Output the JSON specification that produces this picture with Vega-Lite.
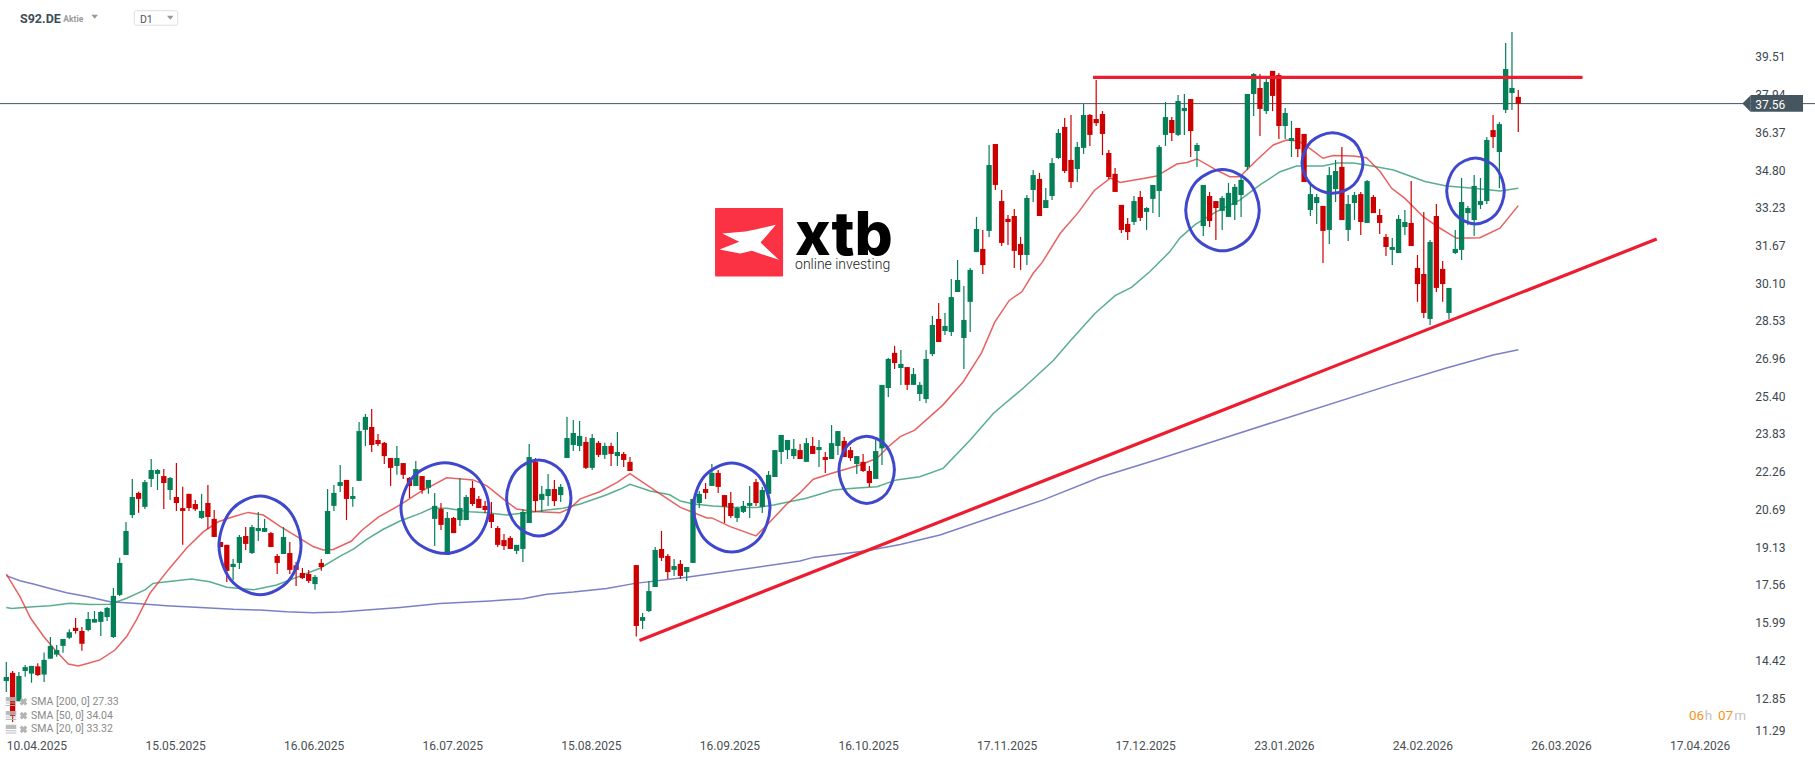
{
  "$schema": "https://vega.github.io/schema/vega-lite/v6.json",
  "width": 1815,
  "height": 761,
  "autosize": {"type": "none"},
  "padding": 0,
  "background": "#ffffff",
  "config": {"view": {"stroke": null}, "text": {"font": "Roboto"}},
  "datasets": {
    "candles": [
      {"i":0,"open":13.56,"high":14.35,"low":13.11,"close":13.73},
      {"i":1,"open":13.90,"high":13.98,"low":11.86,"close":12.11},
      {"i":2,"open":12.72,"high":13.94,"low":12.72,"close":13.77},
      {"i":3,"open":13.98,"high":14.23,"low":13.74,"close":14.14},
      {"i":4,"open":13.87,"high":14.19,"low":13.49,"close":14.19},
      {"i":5,"open":14.17,"high":14.30,"low":13.77,"close":13.81},
      {"i":6,"open":13.83,"high":14.75,"low":13.52,"close":14.44},
      {"i":7,"open":14.49,"high":15.39,"low":14.49,"close":15.02},
      {"i":8,"open":14.66,"high":15.06,"low":14.57,"close":14.85},
      {"i":9,"open":15.02,"high":15.31,"low":14.74,"close":15.31},
      {"i":10,"open":15.36,"high":15.71,"low":15.31,"close":15.59},
      {"i":11,"open":15.77,"high":16.18,"low":15.53,"close":15.64},
      {"i":12,"open":15.64,"high":15.81,"low":14.82,"close":15.11},
      {"i":13,"open":15.68,"high":16.43,"low":15.63,"close":16.14},
      {"i":14,"open":15.99,"high":16.47,"low":15.99,"close":16.14},
      {"i":15,"open":16.02,"high":16.47,"low":15.43,"close":16.43},
      {"i":16,"open":16.22,"high":16.64,"low":16.06,"close":16.60},
      {"i":17,"open":15.39,"high":17.43,"low":15.35,"close":17.10},
      {"i":18,"open":17.14,"high":18.68,"low":17.10,"close":18.47},
      {"i":19,"open":18.80,"high":20.17,"low":18.80,"close":19.80},
      {"i":20,"open":20.46,"high":21.96,"low":20.34,"close":21.21},
      {"i":21,"open":21.38,"high":21.43,"low":20.55,"close":21.13},
      {"i":22,"open":20.80,"high":21.92,"low":20.71,"close":21.83},
      {"i":23,"open":21.96,"high":22.79,"low":21.63,"close":22.33},
      {"i":24,"open":22.17,"high":22.37,"low":21.50,"close":22.33},
      {"i":25,"open":22.08,"high":22.37,"low":20.71,"close":21.79},
      {"i":26,"open":21.50,"high":22.04,"low":21.09,"close":22.00},
      {"i":27,"open":21.21,"high":22.62,"low":20.63,"close":20.96},
      {"i":28,"open":20.75,"high":21.64,"low":19.22,"close":20.63},
      {"i":29,"open":21.34,"high":21.34,"low":20.63,"close":20.75},
      {"i":30,"open":20.92,"high":21.09,"low":20.63,"close":20.70},
      {"i":31,"open":20.34,"high":21.34,"low":20.30,"close":20.63},
      {"i":32,"open":20.96,"high":21.71,"low":19.87,"close":20.38},
      {"i":33,"open":20.30,"high":20.67,"low":19.55,"close":19.55},
      {"i":34,"open":19.34,"high":19.34,"low":19.13,"close":19.13},
      {"i":35,"open":19.22,"high":19.22,"low":17.68,"close":18.14},
      {"i":36,"open":18.30,"high":18.63,"low":17.76,"close":18.43},
      {"i":37,"open":18.47,"high":19.63,"low":18.22,"close":19.55},
      {"i":38,"open":19.59,"high":19.96,"low":19.01,"close":19.26},
      {"i":39,"open":18.88,"high":20.05,"low":18.84,"close":19.96},
      {"i":40,"open":19.80,"high":20.59,"low":19.38,"close":19.92},
      {"i":41,"open":19.76,"high":20.30,"low":19.76,"close":19.92},
      {"i":42,"open":19.71,"high":19.76,"low":19.13,"close":19.13},
      {"i":43,"open":18.76,"high":18.84,"low":18.01,"close":18.47},
      {"i":44,"open":18.84,"high":19.96,"low":18.84,"close":19.55},
      {"i":45,"open":18.88,"high":19.34,"low":18.01,"close":18.18},
      {"i":46,"open":18.37,"high":18.51,"low":17.51,"close":18.18},
      {"i":47,"open":18.05,"high":18.26,"low":17.80,"close":17.84},
      {"i":48,"open":18.01,"high":18.18,"low":17.64,"close":17.72},
      {"i":49,"open":17.59,"high":17.97,"low":17.35,"close":17.89},
      {"i":50,"open":18.47,"high":18.63,"low":18.14,"close":18.30},
      {"i":51,"open":18.84,"high":21.54,"low":18.84,"close":20.63},
      {"i":52,"open":20.84,"high":21.71,"low":20.63,"close":21.38},
      {"i":53,"open":21.67,"high":22.54,"low":21.42,"close":21.83},
      {"i":54,"open":21.92,"high":21.92,"low":20.25,"close":21.13},
      {"i":55,"open":21.13,"high":21.63,"low":20.80,"close":21.25},
      {"i":56,"open":21.88,"high":24.33,"low":21.88,"close":23.95},
      {"i":57,"open":24.00,"high":24.66,"low":23.33,"close":24.54},
      {"i":58,"open":24.12,"high":24.87,"low":23.08,"close":23.37},
      {"i":59,"open":23.58,"high":23.83,"low":23.33,"close":23.41},
      {"i":60,"open":23.46,"high":23.50,"low":22.58,"close":22.91},
      {"i":61,"open":22.83,"high":22.83,"low":21.67,"close":22.42},
      {"i":62,"open":22.50,"high":23.33,"low":22.13,"close":22.83},
      {"i":63,"open":22.62,"high":22.62,"low":21.96,"close":22.13},
      {"i":64,"open":22.00,"high":22.04,"low":21.17,"close":21.67},
      {"i":65,"open":21.67,"high":22.71,"low":21.67,"close":22.37},
      {"i":66,"open":22.08,"high":22.08,"low":21.34,"close":21.50},
      {"i":67,"open":21.59,"high":21.92,"low":21.34,"close":21.92},
      {"i":68,"open":20.30,"high":21.38,"low":19.17,"close":20.84},
      {"i":69,"open":20.71,"high":20.96,"low":19.84,"close":20.05},
      {"i":70,"open":18.80,"high":20.59,"low":18.80,"close":20.34},
      {"i":71,"open":20.34,"high":20.38,"low":19.71,"close":19.71},
      {"i":72,"open":20.25,"high":22.00,"low":20.00,"close":20.75},
      {"i":73,"open":20.25,"high":21.29,"low":20.25,"close":21.21},
      {"i":74,"open":21.59,"high":21.88,"low":20.84,"close":20.92},
      {"i":75,"open":21.13,"high":21.25,"low":20.75,"close":20.75},
      {"i":76,"open":20.84,"high":21.04,"low":20.55,"close":20.67},
      {"i":77,"open":20.50,"high":21.00,"low":19.92,"close":20.17},
      {"i":78,"open":19.92,"high":20.00,"low":19.13,"close":19.22},
      {"i":79,"open":19.42,"high":19.67,"low":19.01,"close":19.17},
      {"i":80,"open":19.51,"high":19.59,"low":19.05,"close":19.05},
      {"i":81,"open":18.97,"high":19.22,"low":18.84,"close":19.22},
      {"i":82,"open":19.05,"high":20.71,"low":18.51,"close":20.59},
      {"i":83,"open":20.13,"high":23.41,"low":20.13,"close":22.87},
      {"i":84,"open":22.67,"high":22.83,"low":20.59,"close":21.04},
      {"i":85,"open":21.09,"high":21.67,"low":20.59,"close":21.34},
      {"i":86,"open":21.25,"high":22.17,"low":20.84,"close":21.54},
      {"i":87,"open":21.54,"high":21.92,"low":20.84,"close":21.04},
      {"i":88,"open":21.29,"high":21.75,"low":21.00,"close":21.63},
      {"i":89,"open":22.83,"high":24.54,"low":22.83,"close":23.66},
      {"i":90,"open":23.37,"high":24.41,"low":23.12,"close":23.87},
      {"i":91,"open":23.33,"high":24.37,"low":23.12,"close":23.75},
      {"i":92,"open":23.50,"high":23.70,"low":22.37,"close":22.42},
      {"i":93,"open":22.42,"high":23.83,"low":22.33,"close":23.66},
      {"i":94,"open":23.46,"high":23.54,"low":22.87,"close":22.96},
      {"i":95,"open":22.96,"high":23.46,"low":22.79,"close":23.33},
      {"i":96,"open":23.33,"high":23.46,"low":22.50,"close":23.00},
      {"i":97,"open":22.91,"high":23.91,"low":22.50,"close":23.08},
      {"i":98,"open":23.00,"high":23.08,"low":22.46,"close":22.75},
      {"i":99,"open":22.67,"high":22.87,"low":22.29,"close":22.29},
      {"i":100,"open":18.38,"high":18.38,"low":15.41,"close":15.85},
      {"i":101,"open":16.06,"high":16.39,"low":15.72,"close":16.22},
      {"i":102,"open":16.47,"high":17.72,"low":16.43,"close":17.30},
      {"i":103,"open":17.47,"high":19.13,"low":17.47,"close":19.01},
      {"i":104,"open":19.05,"high":19.80,"low":18.55,"close":18.68},
      {"i":105,"open":18.76,"high":18.84,"low":17.80,"close":18.09},
      {"i":106,"open":18.18,"high":18.63,"low":17.93,"close":18.34},
      {"i":107,"open":18.43,"high":18.59,"low":17.80,"close":17.93},
      {"i":108,"open":18.09,"high":18.30,"low":17.72,"close":18.30},
      {"i":109,"open":18.47,"high":21.13,"low":18.47,"close":21.13},
      {"i":110,"open":20.96,"high":21.46,"low":20.75,"close":21.34},
      {"i":111,"open":21.54,"high":21.79,"low":21.13,"close":21.38},
      {"i":112,"open":21.67,"high":22.58,"low":21.67,"close":22.21},
      {"i":113,"open":22.21,"high":22.33,"low":21.38,"close":21.63},
      {"i":114,"open":21.29,"high":21.29,"low":20.13,"close":20.81},
      {"i":115,"open":20.96,"high":21.42,"low":20.34,"close":20.42},
      {"i":116,"open":20.34,"high":20.80,"low":20.17,"close":20.75},
      {"i":117,"open":20.59,"high":21.04,"low":20.55,"close":20.84},
      {"i":118,"open":20.84,"high":21.67,"low":20.34,"close":20.96},
      {"i":119,"open":21.83,"high":21.96,"low":20.84,"close":20.96},
      {"i":120,"open":20.80,"high":21.63,"low":20.55,"close":21.50},
      {"i":121,"open":21.34,"high":22.29,"low":21.34,"close":22.13},
      {"i":122,"open":22.04,"high":23.16,"low":22.04,"close":23.16},
      {"i":123,"open":23.08,"high":23.79,"low":22.58,"close":23.79},
      {"i":124,"open":23.16,"high":23.58,"low":22.79,"close":23.58},
      {"i":125,"open":22.91,"high":23.62,"low":22.79,"close":23.21},
      {"i":126,"open":23.16,"high":23.41,"low":22.79,"close":22.79},
      {"i":127,"open":22.67,"high":23.66,"low":22.67,"close":23.45},
      {"i":128,"open":23.33,"high":23.70,"low":23.00,"close":23.00},
      {"i":129,"open":23.16,"high":23.58,"low":22.46,"close":23.29},
      {"i":130,"open":22.87,"high":23.08,"low":22.21,"close":22.75},
      {"i":131,"open":22.79,"high":24.20,"low":22.79,"close":23.45},
      {"i":132,"open":23.33,"high":23.95,"low":22.96,"close":23.95},
      {"i":133,"open":23.54,"high":23.70,"low":22.87,"close":22.87},
      {"i":134,"open":23.16,"high":23.29,"low":22.71,"close":22.83},
      {"i":135,"open":22.58,"high":22.91,"low":22.17,"close":22.91},
      {"i":136,"open":22.67,"high":23.00,"low":22.25,"close":22.29},
      {"i":137,"open":22.29,"high":22.50,"low":21.63,"close":21.79},
      {"i":138,"open":21.96,"high":23.58,"low":21.96,"close":23.12},
      {"i":139,"open":23.23,"high":25.87,"low":22.54,"close":25.87},
      {"i":140,"open":25.74,"high":26.99,"low":25.37,"close":26.95},
      {"i":141,"open":27.20,"high":27.49,"low":26.53,"close":26.78},
      {"i":142,"open":26.57,"high":27.32,"low":25.87,"close":26.74},
      {"i":143,"open":26.61,"high":26.61,"low":25.66,"close":25.87},
      {"i":144,"open":25.87,"high":26.57,"low":25.87,"close":26.32},
      {"i":145,"open":25.49,"high":25.99,"low":25.20,"close":25.87},
      {"i":146,"open":25.28,"high":27.32,"low":25.12,"close":26.95},
      {"i":147,"open":27.15,"high":28.73,"low":27.07,"close":28.36},
      {"i":148,"open":28.61,"high":29.27,"low":27.65,"close":27.65},
      {"i":149,"open":28.11,"high":28.86,"low":27.94,"close":28.32},
      {"i":150,"open":28.07,"high":30.27,"low":27.90,"close":29.52},
      {"i":151,"open":29.73,"high":31.06,"low":29.73,"close":30.23},
      {"i":152,"open":27.82,"high":29.98,"low":26.53,"close":28.57},
      {"i":153,"open":29.32,"high":30.73,"low":28.07,"close":30.65},
      {"i":154,"open":31.39,"high":32.85,"low":31.39,"close":32.35},
      {"i":155,"open":31.52,"high":32.31,"low":30.48,"close":30.85},
      {"i":156,"open":32.27,"high":35.84,"low":32.02,"close":35.01},
      {"i":157,"open":35.88,"high":35.88,"low":33.97,"close":34.18},
      {"i":158,"open":33.51,"high":33.97,"low":31.64,"close":31.77},
      {"i":159,"open":32.77,"high":32.93,"low":31.68,"close":32.64},
      {"i":160,"open":32.89,"high":33.18,"low":30.73,"close":31.44},
      {"i":161,"open":31.73,"high":32.02,"low":30.65,"close":31.27},
      {"i":162,"open":31.27,"high":33.76,"low":30.85,"close":33.64},
      {"i":163,"open":33.97,"high":34.80,"low":33.47,"close":34.59},
      {"i":164,"open":34.43,"high":34.68,"low":32.89,"close":32.89},
      {"i":165,"open":33.22,"high":34.05,"low":33.22,"close":33.55},
      {"i":166,"open":33.72,"high":35.30,"low":33.55,"close":35.09},
      {"i":167,"open":35.30,"high":36.51,"low":35.26,"close":36.34},
      {"i":168,"open":36.59,"high":36.96,"low":34.68,"close":34.76},
      {"i":169,"open":35.22,"high":37.09,"low":34.05,"close":34.30},
      {"i":170,"open":34.84,"high":35.97,"low":34.30,"close":35.76},
      {"i":171,"open":35.72,"high":37.54,"low":35.47,"close":37.09},
      {"i":172,"open":37.09,"high":37.13,"low":35.80,"close":36.26},
      {"i":173,"open":36.92,"high":38.54,"low":36.63,"close":36.75},
      {"i":174,"open":37.13,"high":37.25,"low":35.42,"close":36.30},
      {"i":175,"open":35.51,"high":35.63,"low":34.43,"close":34.51},
      {"i":176,"open":34.64,"high":34.88,"low":33.89,"close":33.89},
      {"i":177,"open":33.35,"high":33.35,"low":32.18,"close":32.31},
      {"i":178,"open":32.56,"high":32.81,"low":31.89,"close":32.22},
      {"i":179,"open":32.64,"high":33.72,"low":32.52,"close":33.51},
      {"i":180,"open":33.68,"high":33.93,"low":32.68,"close":32.81},
      {"i":181,"open":33.06,"high":33.26,"low":32.31,"close":33.22},
      {"i":182,"open":33.60,"high":34.18,"low":33.01,"close":34.18},
      {"i":183,"open":33.93,"high":35.84,"low":32.85,"close":35.76},
      {"i":184,"open":36.26,"high":37.63,"low":35.80,"close":37.00},
      {"i":185,"open":36.88,"high":37.00,"low":36.01,"close":36.34},
      {"i":186,"open":36.26,"high":37.92,"low":36.21,"close":37.67},
      {"i":187,"open":37.25,"high":37.96,"low":36.26,"close":37.38},
      {"i":188,"open":37.75,"high":37.75,"low":35.34,"close":36.42},
      {"i":189,"open":35.59,"high":35.92,"low":34.93,"close":35.84},
      {"i":190,"open":32.47,"high":34.18,"low":32.06,"close":34.18},
      {"i":191,"open":33.72,"high":33.89,"low":32.43,"close":32.68},
      {"i":192,"open":33.51,"high":33.51,"low":31.89,"close":33.22},
      {"i":193,"open":33.10,"high":33.72,"low":32.31,"close":33.64},
      {"i":194,"open":32.85,"high":34.26,"low":32.85,"close":33.85},
      {"i":195,"open":33.35,"high":34.22,"low":32.72,"close":34.10},
      {"i":196,"open":33.76,"high":34.59,"low":32.85,"close":34.39},
      {"i":197,"open":34.93,"high":37.96,"low":34.80,"close":37.96},
      {"i":198,"open":37.96,"high":38.83,"low":37.05,"close":38.79},
      {"i":199,"open":38.21,"high":38.79,"low":36.21,"close":37.34},
      {"i":200,"open":37.25,"high":38.63,"low":37.13,"close":38.46},
      {"i":201,"open":38.92,"high":38.92,"low":37.25,"close":37.88},
      {"i":202,"open":38.75,"high":38.83,"low":36.09,"close":36.63},
      {"i":203,"open":36.63,"high":37.38,"low":36.09,"close":37.17},
      {"i":204,"open":36.01,"high":36.84,"low":35.34,"close":36.13},
      {"i":205,"open":36.55,"high":36.55,"low":35.34,"close":35.67},
      {"i":206,"open":36.30,"high":36.30,"low":34.30,"close":34.30},
      {"i":207,"open":33.14,"high":34.18,"low":32.89,"close":33.80},
      {"i":208,"open":33.43,"high":33.80,"low":32.56,"close":33.68},
      {"i":209,"open":33.31,"high":33.31,"low":30.94,"close":32.27},
      {"i":210,"open":32.31,"high":34.93,"low":31.73,"close":34.59},
      {"i":211,"open":34.01,"high":35.22,"low":33.47,"close":34.76},
      {"i":212,"open":34.93,"high":35.76,"low":32.72,"close":32.72},
      {"i":213,"open":32.31,"high":33.76,"low":31.85,"close":33.39},
      {"i":214,"open":33.43,"high":33.89,"low":32.72,"close":33.76},
      {"i":215,"open":33.80,"high":33.89,"low":32.10,"close":32.64},
      {"i":216,"open":32.60,"high":34.39,"low":32.60,"close":34.34},
      {"i":217,"open":33.68,"high":33.76,"low":33.01,"close":33.01},
      {"i":218,"open":32.93,"high":33.18,"low":32.14,"close":32.60},
      {"i":219,"open":32.02,"high":32.14,"low":31.23,"close":31.60},
      {"i":220,"open":31.48,"high":31.98,"low":30.85,"close":31.60},
      {"i":221,"open":31.35,"high":32.93,"low":31.35,"close":32.77},
      {"i":222,"open":32.43,"high":33.14,"low":32.10,"close":32.64},
      {"i":223,"open":32.60,"high":34.34,"low":31.64,"close":31.64},
      {"i":224,"open":30.73,"high":31.27,"low":29.32,"close":30.06},
      {"i":225,"open":30.48,"high":33.06,"low":28.65,"close":28.86},
      {"i":226,"open":28.61,"high":31.89,"low":28.36,"close":31.81},
      {"i":227,"open":32.89,"high":33.39,"low":29.73,"close":29.90},
      {"i":228,"open":30.69,"high":31.02,"low":29.32,"close":30.06},
      {"i":229,"open":28.86,"high":29.90,"low":28.61,"close":29.90},
      {"i":230,"open":31.35,"high":32.31,"low":31.31,"close":31.52},
      {"i":231,"open":31.48,"high":34.47,"low":31.06,"close":33.47},
      {"i":232,"open":33.01,"high":33.31,"low":32.52,"close":33.22},
      {"i":233,"open":32.72,"high":34.59,"low":32.06,"close":34.14},
      {"i":234,"open":33.35,"high":34.47,"low":33.18,"close":33.51},
      {"i":235,"open":33.51,"high":36.17,"low":33.39,"close":36.05},
      {"i":236,"open":36.46,"high":37.09,"low":35.72,"close":36.17},
      {"i":237,"open":35.55,"high":36.80,"low":34.05,"close":36.71},
      {"i":238,"open":37.30,"high":40.08,"low":37.17,"close":39.00},
      {"i":239,"open":38.00,"high":40.54,"low":37.30,"close":38.21},
      {"i":240,"open":37.84,"high":38.13,"low":36.38,"close":37.56}
    ],
    "sma": [
      {"s":"200","i":0,"p":17.94},{"s":"200","i":2.17,"p":17.73},{"s":"200","i":4.29,"p":17.59},{"s":"200","i":6.94,"p":17.41},{"s":"200","i":9.58,"p":17.23},{"s":"200","i":12.76,"p":17.07},{"s":"200","i":16.46,"p":16.86},{"s":"200","i":20.16,"p":16.79},{"s":"200","i":25.46,"p":16.69},{"s":"200","i":30.75,"p":16.62},{"s":"200","i":36.04,"p":16.54},{"s":"200","i":40.27,"p":16.51},{"s":"200","i":44.5,"p":16.44},{"s":"200","i":48.7,"p":16.40},{"s":"200","i":53,"p":16.43},{"s":"200","i":57.2,"p":16.51},{"s":"200","i":62.5,"p":16.62},{"s":"200","i":68.8,"p":16.78},{"s":"200","i":76.8,"p":16.89},{"s":"200","i":82,"p":16.98},{"s":"200","i":85.8,"p":17.17},{"s":"200","i":90,"p":17.26},{"s":"200","i":95.3,"p":17.41},{"s":"200","i":99.8,"p":17.62},{"s":"200","i":108,"p":17.87},{"s":"200","i":117.5,"p":18.23},{"s":"200","i":126,"p":18.55},{"s":"200","i":128.1,"p":18.70},{"s":"200","i":136.6,"p":18.98},{"s":"200","i":141.9,"p":19.24},{"s":"200","i":148.2,"p":19.63},{"s":"200","i":156.7,"p":20.39},{"s":"200","i":164.6,"p":21.09},{"s":"200","i":173.6,"p":22.03},{"s":"200","i":182.7,"p":22.77},{"s":"200","i":201,"p":24.31},{"s":"200","i":219.5,"p":25.85},{"s":"200","i":228.6,"p":26.57},{"s":"200","i":236,"p":27.11},{"s":"200","i":240,"p":27.33},
      {"s":"50","i":0,"p":16.62},{"s":"50","i":0.85,"p":16.58},{"s":"50","i":4.29,"p":16.65},{"s":"50","i":6.94,"p":16.69},{"s":"50","i":10.1,"p":16.79},{"s":"50","i":13.3,"p":16.74},{"s":"50","i":16.46,"p":16.75},{"s":"50","i":19.1,"p":17.00},{"s":"50","i":22,"p":17.35},{"s":"50","i":23.3,"p":17.62},{"s":"50","i":25.5,"p":17.69},{"s":"50","i":29.4,"p":17.80},{"s":"50","i":32.3,"p":17.69},{"s":"50","i":35,"p":17.46},{"s":"50","i":39.2,"p":17.35},{"s":"50","i":42.9,"p":17.55},{"s":"50","i":46.6,"p":17.92},{"s":"50","i":49.8,"p":18.25},{"s":"50","i":53,"p":18.75},{"s":"50","i":55.1,"p":19.04},{"s":"50","i":57.2,"p":19.45},{"s":"50","i":59.85,"p":19.87},{"s":"50","i":62.5,"p":20.21},{"s":"50","i":65.7,"p":20.53},{"s":"50","i":67.5,"p":20.74},{"s":"50","i":69.9,"p":20.74},{"s":"50","i":73.6,"p":20.60},{"s":"50","i":76.3,"p":20.56},{"s":"50","i":79.4,"p":20.46},{"s":"50","i":82.6,"p":20.56},{"s":"50","i":85.8,"p":20.67},{"s":"50","i":88.4,"p":20.74},{"s":"50","i":91.1,"p":20.92},{"s":"50","i":95,"p":21.27},{"s":"50","i":97.4,"p":21.53},{"s":"50","i":99,"p":21.74},{"s":"50","i":102.2,"p":21.46},{"s":"50","i":105.3,"p":21.30},{"s":"50","i":107,"p":21.04},{"s":"50","i":109.1,"p":20.92},{"s":"50","i":112.2,"p":20.84},{"s":"50","i":115.4,"p":20.78},{"s":"50","i":119.1,"p":20.77},{"s":"50","i":121.8,"p":20.88},{"s":"50","i":127,"p":21.16},{"s":"50","i":131.3,"p":21.50},{"s":"50","i":134.5,"p":21.57},{"s":"50","i":138.2,"p":21.64},{"s":"50","i":141.3,"p":21.92},{"s":"50","i":145,"p":22.05},{"s":"50","i":148.7,"p":22.40},{"s":"50","i":153,"p":23.58},{"s":"50","i":156.7,"p":24.69},{"s":"50","i":161.4,"p":25.73},{"s":"50","i":166.2,"p":26.88},{"s":"50","i":168.8,"p":27.67},{"s":"50","i":172.8,"p":28.84},{"s":"50","i":176,"p":29.58},{"s":"50","i":178.6,"p":29.92},{"s":"50","i":181.5,"p":30.57},{"s":"50","i":184.7,"p":31.41},{"s":"50","i":186.3,"p":31.98},{"s":"50","i":188.8,"p":32.55},{"s":"50","i":192.1,"p":33.07},{"s":"50","i":195.8,"p":33.55},{"s":"50","i":199,"p":34.18},{"s":"50","i":202.2,"p":34.73},{"s":"50","i":204.8,"p":34.97},{"s":"50","i":209,"p":34.97},{"s":"50","i":211.2,"p":35.09},{"s":"50","i":213.8,"p":35.09},{"s":"50","i":215.9,"p":35.01},{"s":"50","i":220.2,"p":34.80},{"s":"50","i":222.8,"p":34.55},{"s":"50","i":225.2,"p":34.32},{"s":"50","i":228.6,"p":34.14},{"s":"50","i":232.9,"p":34.04},{"s":"50","i":237.1,"p":33.93},{"s":"50","i":240,"p":34.04},
      {"s":"20","i":0,"p":18.00},{"s":"20","i":2.17,"p":17.07},{"s":"20","i":3.87,"p":16.17},{"s":"20","i":5.88,"p":15.43},{"s":"20","i":7.73,"p":14.85},{"s":"20","i":9.85,"p":14.27},{"s":"20","i":11.43,"p":14.19},{"s":"20","i":13.02,"p":14.30},{"s":"20","i":14.87,"p":14.44},{"s":"20","i":17.25,"p":14.85},{"s":"20","i":19.1,"p":15.41},{"s":"20","i":20.7,"p":16.12},{"s":"20","i":22.8,"p":17.21},{"s":"20","i":25.7,"p":18.18},{"s":"20","i":28.6,"p":19.08},{"s":"20","i":31.3,"p":19.77},{"s":"20","i":33.65,"p":20.18},{"s":"20","i":36,"p":20.39},{"s":"20","i":38.4,"p":20.57},{"s":"20","i":40.8,"p":20.46},{"s":"20","i":43.4,"p":20.00},{"s":"20","i":46.6,"p":19.49},{"s":"20","i":48.7,"p":19.15},{"s":"20","i":50.3,"p":19.01},{"s":"20","i":51.9,"p":19.03},{"s":"20","i":54.8,"p":19.38},{"s":"20","i":56.4,"p":19.82},{"s":"20","i":59.05,"p":20.37},{"s":"20","i":62.5,"p":20.88},{"s":"20","i":65.7,"p":21.42},{"s":"20","i":69.9,"p":22.01},{"s":"20","i":74.1,"p":21.92},{"s":"20","i":76.3,"p":21.67},{"s":"20","i":79.4,"p":21.02},{"s":"20","i":81,"p":20.71},{"s":"20","i":83.7,"p":20.61},{"s":"20","i":87.9,"p":20.56},{"s":"20","i":89.5,"p":20.74},{"s":"20","i":91.1,"p":21.13},{"s":"20","i":94.2,"p":21.43},{"s":"20","i":96.9,"p":21.81},{"s":"20","i":99,"p":22.18},{"s":"20","i":103,"p":21.47},{"s":"20","i":107,"p":20.78},{"s":"20","i":111.2,"p":20.34},{"s":"20","i":112,"p":20.34},{"s":"20","i":114.9,"p":19.98},{"s":"20","i":119,"p":19.59},{"s":"20","i":121.2,"p":20.17},{"s":"20","i":123.9,"p":20.92},{"s":"20","i":126,"p":21.39},{"s":"20","i":128.1,"p":21.95},{"s":"20","i":131.3,"p":22.22},{"s":"20","i":135.5,"p":22.54},{"s":"20","i":138.2,"p":22.82},{"s":"20","i":140,"p":23.30},{"s":"20","i":141.9,"p":23.72},{"s":"20","i":144.2,"p":23.99},{"s":"20","i":148.7,"p":25.04},{"s":"20","i":151.9,"p":26.00},{"s":"20","i":154.8,"p":27.20},{"s":"20","i":156.9,"p":28.48},{"s":"20","i":159.2,"p":29.38},{"s":"20","i":161.2,"p":29.74},{"s":"20","i":163,"p":30.51},{"s":"20","i":164.4,"p":30.95},{"s":"20","i":167.3,"p":32.17},{"s":"20","i":170.2,"p":33.05},{"s":"20","i":172.7,"p":33.95},{"s":"20","i":175.3,"p":34.47},{"s":"20","i":176.8,"p":34.28},{"s":"20","i":180.5,"p":34.45},{"s":"20","i":182.6,"p":34.55},{"s":"20","i":185.8,"p":35.05},{"s":"20","i":187.4,"p":35.11},{"s":"20","i":189,"p":35.26},{"s":"20","i":192.1,"p":34.80},{"s":"20","i":194.2,"p":34.52},{"s":"20","i":195.8,"p":34.52},{"s":"20","i":198.5,"p":35.22},{"s":"20","i":201.1,"p":35.84},{"s":"20","i":203.2,"p":36.05},{"s":"20","i":205.1,"p":36.01},{"s":"20","i":206.9,"p":35.70},{"s":"20","i":209,"p":35.29},{"s":"20","i":210.6,"p":35.40},{"s":"20","i":213.8,"p":35.38},{"s":"20","i":215.9,"p":35.31},{"s":"20","i":218.1,"p":34.73},{"s":"20","i":219.9,"p":34.04},{"s":"20","i":222,"p":33.62},{"s":"20","i":224.9,"p":32.86},{"s":"20","i":227.6,"p":32.38},{"s":"20","i":230.2,"p":31.96},{"s":"20","i":233.9,"p":31.99},{"s":"20","i":237.1,"p":32.38},{"s":"20","i":240,"p":33.32}
    ],
    "circles": [
      {"e":1,"n":0,"i":46.78,"p":19.20},{"e":1,"n":1,"i":44.87,"p":20.65},{"e":1,"n":2,"i":40.27,"p":21.25},{"e":1,"n":3,"i":35.67,"p":20.65},{"e":1,"n":4,"i":33.76,"p":19.20},{"e":1,"n":5,"i":35.67,"p":17.75},{"e":1,"n":6,"i":40.27,"p":17.15},{"e":1,"n":7,"i":44.87,"p":17.75},
      {"e":2,"n":0,"i":76.61,"p":20.75},{"e":2,"n":1,"i":74.57,"p":22.08},{"e":2,"n":2,"i":69.63,"p":22.63},{"e":2,"n":3,"i":64.69,"p":22.08},{"e":2,"n":4,"i":62.65,"p":20.75},{"e":2,"n":5,"i":64.69,"p":19.42},{"e":2,"n":6,"i":69.63,"p":18.87},{"e":2,"n":7,"i":74.57,"p":19.42},
      {"e":3,"n":0,"i":89.63,"p":21.17},{"e":3,"n":1,"i":88.13,"p":22.29},{"e":3,"n":2,"i":84.52,"p":22.75},{"e":3,"n":3,"i":80.91,"p":22.29},{"e":3,"n":4,"i":79.41,"p":21.17},{"e":3,"n":5,"i":80.91,"p":20.05},{"e":3,"n":6,"i":84.52,"p":19.59},{"e":3,"n":7,"i":88.13,"p":20.05},
      {"e":4,"n":0,"i":121.22,"p":20.77},{"e":4,"n":1,"i":119.44,"p":22.08},{"e":4,"n":2,"i":115.14,"p":22.62},{"e":4,"n":3,"i":110.84,"p":22.08},{"e":4,"n":4,"i":109.06,"p":20.77},{"e":4,"n":5,"i":110.84,"p":19.46},{"e":4,"n":6,"i":115.14,"p":18.92},{"e":4,"n":7,"i":119.44,"p":19.46},
      {"e":5,"n":0,"i":140.97,"p":22.34},{"e":5,"n":1,"i":139.68,"p":23.33},{"e":5,"n":2,"i":136.57,"p":23.74},{"e":5,"n":3,"i":133.46,"p":23.33},{"e":5,"n":4,"i":132.17,"p":22.34},{"e":5,"n":5,"i":133.46,"p":21.35},{"e":5,"n":6,"i":136.57,"p":20.94},{"e":5,"n":7,"i":139.68,"p":21.35},
      {"e":6,"n":0,"i":198.89,"p":33.13},{"e":6,"n":1,"i":197.18,"p":34.32},{"e":6,"n":2,"i":193.05,"p":34.82},{"e":6,"n":3,"i":188.92,"p":34.32},{"e":6,"n":4,"i":187.21,"p":33.13},{"e":6,"n":5,"i":188.92,"p":31.94},{"e":6,"n":6,"i":193.05,"p":31.44},{"e":6,"n":7,"i":197.18,"p":31.94},
      {"e":7,"n":0,"i":215.35,"p":35.09},{"e":7,"n":1,"i":213.93,"p":35.98},{"e":7,"n":2,"i":210.51,"p":36.35},{"e":7,"n":3,"i":207.09,"p":35.98},{"e":7,"n":4,"i":205.67,"p":35.09},{"e":7,"n":5,"i":207.09,"p":34.20},{"e":7,"n":6,"i":210.51,"p":33.83},{"e":7,"n":7,"i":213.93,"p":34.20},
      {"e":8,"n":0,"i":237.78,"p":33.93},{"e":8,"n":1,"i":236.44,"p":34.90},{"e":8,"n":2,"i":233.21,"p":35.30},{"e":8,"n":3,"i":229.98,"p":34.90},{"e":8,"n":4,"i":228.64,"p":33.93},{"e":8,"n":5,"i":229.98,"p":32.96},{"e":8,"n":6,"i":233.21,"p":32.56},{"e":8,"n":7,"i":236.44,"p":32.96}
    ],
    "trendlines": [
      {"t":"support","i":100.5,"p":15.25},{"t":"support","i":261.97,"p":31.93},
      {"t":"resistance","i":172.5,"p":38.65},{"t":"resistance","i":250.2,"p":38.65}
    ],
    "legendrows": [
      {"i":3.92,"p":12.70,"txt":"SMA [200,  0] 27.33"},
      {"i":3.92,"p":12.12,"txt":"SMA [50,  0] 34.04"},
      {"i":3.92,"p":11.55,"txt":"SMA [20,  0] 33.32"}
    ],
    "legendicons": [
      {"i":0.75,"p":12.70},{"i":0.75,"p":12.12},{"i":0.75,"p":11.55}
    ],
    "legendx": [
      {"i":2.73,"p":12.70},{"i":2.73,"p":12.12},{"i":2.73,"p":11.55}
    ]
  },
  "encoding": {
    "x": {
      "field": "i",
      "type": "quantitative",
      "scale": {"domain": [-1, 287.1], "nice": false, "zero": false},
      "axis": {
        "values": [0, 22, 44, 66, 88, 110, 132, 154, 176, 198, 220, 242, 264],
        "labelExpr": "['10.04.2025','15.05.2025','16.06.2025','16.07.2025','15.08.2025','16.09.2025','16.10.2025','17.11.2025','17.12.2025','23.01.2026','24.02.2026','26.03.2026','17.04.2026'][datum.value/22]",
        "orient": "bottom",
        "offset": -16,
        "title": null,
        "domain": false,
        "ticks": false,
        "grid": false,
        "labelAlign": "left",
        "labelBaseline": "middle",
        "labelPadding": 0,
        "labelOverlap": false,
        "labelFont": "Roboto",
        "labelFontSize": 12,
        "labelColor": "#4a4f54"
      }
    },
    "y": {
      "field": "p",
      "type": "quantitative",
      "scale": {"domain": [10.237, 41.867], "nice": false, "zero": false},
      "axis": {
        "values": [39.51, 37.94, 36.37, 34.80, 33.23, 31.67, 30.10, 28.53, 26.96, 25.40, 23.83, 22.26, 20.69, 19.13, 17.56, 15.99, 14.42, 12.85, 11.29],
        "format": ".2f",
        "orient": "left",
        "offset": -1785,
        "title": null,
        "domain": false,
        "ticks": false,
        "grid": false,
        "labelAlign": "right",
        "labelBaseline": "middle",
        "labelPadding": 0,
        "labelOverlap": false,
        "labelOffset": {"condition": {"test": "datum.value < 12", "value": -5}, "value": 0},
        "labelFont": "Roboto",
        "labelFontSize": 12,
        "labelColor": "#3c4850"
      }
    }
  },
  "layer": [
    {
      "data": {"values": [{"i": -1, "i2": 287.1, "p": 37.56}]},
      "mark": {"type": "rule", "color": "#46545c", "strokeWidth": 1},
      "encoding": {"x2": {"field": "i2"}}
    },
    {
      "data": {"name": "sma"},
      "mark": {"type": "line", "strokeWidth": 1.5, "opacity": 0.8, "clip": true},
      "encoding": {
        "color": {"field": "s", "type": "nominal", "legend": null, "scale": {"domain": ["200", "50", "20"], "range": ["#5a60b8", "#2f9a72", "#e23a3a"]}}
      }
    },
    {
      "data": {"name": "candles"},
      "mark": {"type": "rule", "strokeWidth": 1.2},
      "encoding": {
        "y": {
          "field": "high",
          "type": "quantitative",
          "scale": {"domain": [10.237, 41.867], "nice": false, "zero": false},
          "axis": {
            "values": [39.51, 37.94, 36.37, 34.80, 33.23, 31.67, 30.10, 28.53, 26.96, 25.40, 23.83, 22.26, 20.69, 19.13, 17.56, 15.99, 14.42, 12.85, 11.29],
            "format": ".2f",
            "orient": "left",
            "offset": -1785,
            "title": null,
            "domain": false,
            "ticks": false,
            "grid": false,
            "labelAlign": "right",
            "labelBaseline": "middle",
            "labelPadding": 0,
            "labelOverlap": false,
            "labelOffset": {"condition": {"test": "datum.value < 12", "value": -5}, "value": 0},
            "labelFont": "Roboto",
            "labelFontSize": 12,
            "labelColor": "#3c4850"
          }
        },
        "y2": {"field": "low"},
        "color": {"condition": {"test": "datum.close >= datum.open", "value": "#047f58"}, "value": "#cc0000"}
      }
    },
    {
      "data": {"name": "candles"},
      "mark": {"type": "rule", "strokeWidth": 5.3},
      "encoding": {
        "y": {
          "field": "open",
          "type": "quantitative",
          "scale": {"domain": [10.237, 41.867], "nice": false, "zero": false},
          "axis": {
            "values": [39.51, 37.94, 36.37, 34.80, 33.23, 31.67, 30.10, 28.53, 26.96, 25.40, 23.83, 22.26, 20.69, 19.13, 17.56, 15.99, 14.42, 12.85, 11.29],
            "format": ".2f",
            "orient": "left",
            "offset": -1785,
            "title": null,
            "domain": false,
            "ticks": false,
            "grid": false,
            "labelAlign": "right",
            "labelBaseline": "middle",
            "labelPadding": 0,
            "labelOverlap": false,
            "labelOffset": {"condition": {"test": "datum.value < 12", "value": -5}, "value": 0},
            "labelFont": "Roboto",
            "labelFontSize": 12,
            "labelColor": "#3c4850"
          }
        },
        "y2": {"field": "close"},
        "color": {"condition": {"test": "datum.close >= datum.open", "value": "#047f58"}, "value": "#cc0000"}
      }
    },
    {
      "data": {"name": "trendlines"},
      "mark": {"type": "line", "color": "#ed1c2e", "strokeWidth": 3.2},
      "encoding": {"detail": {"field": "t"}}
    },
    {
      "data": {"name": "circles"},
      "mark": {"type": "line", "color": "#3f48cc", "strokeWidth": 3, "interpolate": "cardinal-closed"},
      "encoding": {"detail": {"field": "e"}, "order": {"field": "n"}}
    },
    {
      "data": {"values": [{"i": 112.5, "i2": 123.3, "p": 33.22, "p2": 30.37}]},
      "mark": {"type": "rect", "fill": "#fa3243", "cornerRadius": 1},
      "encoding": {"x2": {"field": "i2"}, "y2": {"field": "p2"}}
    },
    {
      "data": {"values": [{"i": 117.9, "p": 31.80}]},
      "mark": {"type": "point", "filled": true, "fill": "#ffffff", "opacity": 1, "size": 4444, "strokeWidth": 0, "shape": "M0.805,-0.52L0.345,0.01L0.895,0.53L0.085,0.26L-0.265,0.34L-0.885,0.22L-0.295,-0.01L-0.805,-0.26L-0.105,-0.32L0.225,-0.39Z"}
    },
    {
      "data": {"values": [{"i": 125.2, "p": 31.27, "txt": "xtb"}]},
      "mark": {"type": "text", "font": "Inter", "fontWeight": 800, "fontSize": 60, "color": "#000000", "align": "left", "baseline": "alphabetic"},
      "encoding": {"text": {"field": "txt"}}
    },
    {
      "data": {"values": [{"i": 125.2, "p": 30.69, "txt": "online investing"}]},
      "mark": {"type": "text", "font": "Roboto", "fontWeight": 300, "fontSize": 14, "color": "#1a1a1a", "align": "left", "baseline": "alphabetic"},
      "encoding": {"text": {"field": "txt"}}
    },
    {
      "data": {"values": [{"i": 276.9, "i2": 285.2, "p": 37.92, "p2": 37.225}]},
      "mark": {"type": "rect", "fill": "#455660"},
      "encoding": {"x2": {"field": "i2"}, "y2": {"field": "p2"}}
    },
    {
      "data": {"values": [{"i": 276.9, "p": 37.56}]},
      "mark": {"type": "point", "filled": true, "fill": "#455660", "opacity": 1, "size": 279, "strokeWidth": 0, "shape": "M-1,0L0,-1L0,1Z"}
    },
    {
      "data": {"values": [{"i": 277.6, "p": 37.52, "txt": "37.56"}]},
      "mark": {"type": "text", "fontSize": 12, "color": "#ffffff", "align": "left", "baseline": "middle"},
      "encoding": {"text": {"field": "txt"}}
    },
    {
      "data": {"values": [{"i": 2.17, "p": 41.09, "txt": "S92.DE"}]},
      "mark": {"type": "text", "fontSize": 12.5, "fontWeight": "bold", "color": "#3d4d57", "align": "left", "baseline": "middle"},
      "encoding": {"text": {"field": "txt"}}
    },
    {
      "data": {"values": [{"i": 9.05, "p": 41.08, "txt": "Aktie"}]},
      "mark": {"type": "text", "fontSize": 8.5, "fontWeight": "bold", "color": "#9a9a9a", "align": "left", "baseline": "middle"},
      "encoding": {"text": {"field": "txt"}}
    },
    {
      "data": {"values": [{"i": 20.32, "i2": 27.21, "p": 41.42, "p2": 40.82}]},
      "mark": {"type": "rect", "fill": "#ffffff", "stroke": "#dddddd", "strokeWidth": 1, "cornerRadius": 2},
      "encoding": {"x2": {"field": "i2"}, "y2": {"field": "p2"}}
    },
    {
      "data": {"values": [{"i": 21.22, "p": 41.04, "txt": "D1"}]},
      "mark": {"type": "text", "fontSize": 10.5, "color": "#4a5860", "align": "left", "baseline": "middle"},
      "encoding": {"text": {"field": "txt"}}
    },
    {
      "data": {"values": [{"i": 14.03, "p": 41.17}, {"i": 26.03, "p": 41.13}]},
      "mark": {"type": "point", "filled": true, "fill": "#999999", "opacity": 1, "size": 44, "strokeWidth": 0, "shape": "M-1,-0.6L1,-0.6L0,0.6Z"}
    },
    {
      "data": {"name": "legendicons"},
      "mark": {"type": "point", "filled": true, "fill": "#b4b4b4", "opacity": 0.9, "size": 110, "strokeWidth": 0, "shape": "M-1,-0.9L1,-0.9L1,-0.1L-1,-0.1ZM-1,0.15L1,0.15L1,0.35L-1,0.35ZM-1,0.6L1,0.6L1,0.8L-1,0.8Z"}
    },
    {
      "data": {"name": "legendx"},
      "mark": {"type": "point", "shape": "cross", "filled": true, "fill": "#b4b4b4", "opacity": 1, "size": 60, "angle": 45, "strokeWidth": 0}
    },
    {
      "data": {"name": "legendrows"},
      "mark": {"type": "text", "fontSize": 10.5, "color": "#8a8a8a", "align": "left", "baseline": "middle"},
      "encoding": {"text": {"field": "txt"}}
    },
    {
      "data": {"values": [{"i": 267.1, "p": 12.11, "txt": "06"}, {"i": 271.7, "p": 12.11, "txt": "07"}]},
      "mark": {"type": "text", "fontSize": 13.5, "color": "#f7941d", "align": "left", "baseline": "middle"},
      "encoding": {"text": {"field": "txt"}}
    },
    {
      "data": {"values": [{"i": 269.6, "p": 12.11, "txt": "h"}, {"i": 274.3, "p": 12.11, "txt": "m"}]},
      "mark": {"type": "text", "fontSize": 13.5, "color": "#c4c4c4", "align": "left", "baseline": "middle"},
      "encoding": {"text": {"field": "txt"}}
    }
  ]
}
